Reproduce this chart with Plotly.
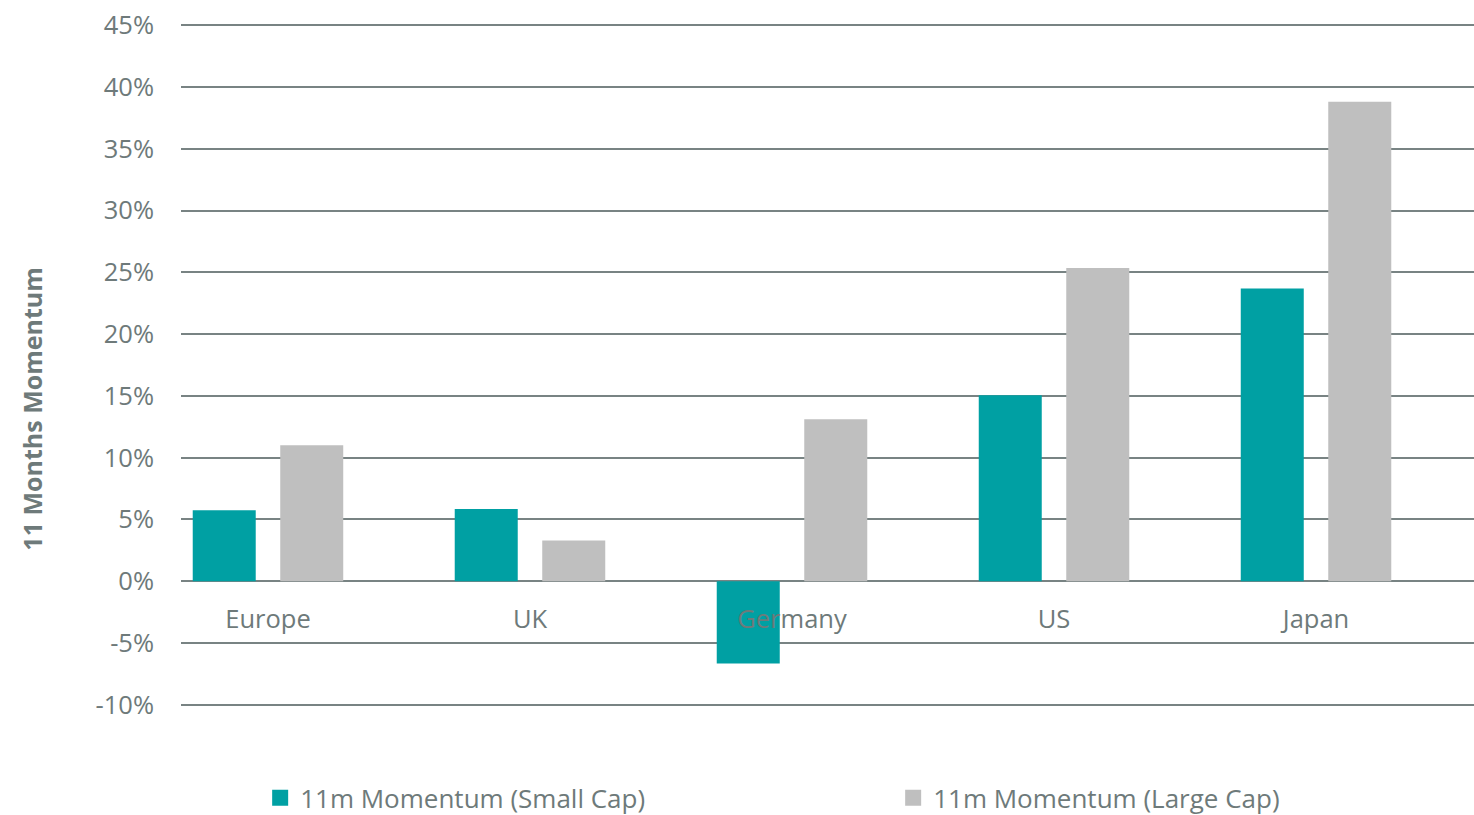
import plotly.graph_objects as go

categories = ["Europe", "UK", "Germany", "US", "Japan"]
small_cap = [5.75, 5.85, -6.65, 15.05, 23.7]
large_cap = [11.0, 3.3, 13.1, 25.35, 38.8]
y_ticks = [-10, -5, 0, 5, 10, 15, 20, 25, 30, 35, 40, 45]
y_tick_text = [f"{v}%" for v in y_ticks]
series_names = ["11m Momentum (Small Cap)", "11m Momentum (Large Cap)"]
series_colors = ["#00A0A3", "#BFBFBF"]

TEXT = "#6E7A7A"
GRID = "#788383"
FONT = "Open Sans"

fig = go.Figure()
for vals, name, color in zip([small_cap, large_cap], series_names, series_colors):
    fig.add_trace(go.Bar(x=categories, y=vals, name=name, legendgroup=name,
                         showlegend=False,
                         marker=dict(color=color, line=dict(width=0))))
# legend proxies (larger square swatches)
for name, color in zip(series_names, series_colors):
    fig.add_trace(go.Scatter(x=[None], y=[None], mode="markers", name=name,
                             legendgroup=name, hoverinfo="skip",
                             marker=dict(symbol="square", size=16, color=color)))

y_min, y_max = -10.1, 45.1
zero_frac = (0 - y_min) / (y_max - y_min)

fig.update_layout(
    width=1474, height=815,
    margin=dict(l=181, r=0, t=24, b=109, autoexpand=False),
    paper_bgcolor="white", plot_bgcolor="white",
    barmode="group", bargap=0.332, bargroupgap=0.28,
    font=dict(family=FONT, size=25.5, color=TEXT),
    showlegend=True,
    legend=dict(orientation="h", xref="container", yref="container",
                x=0.1765, y=0.0209, xanchor="left", yanchor="middle",
                entrywidth=588, entrywidthmode="pixels",
                font=dict(family=FONT, size=26, color=TEXT),
                itemclick=False, itemdoubleclick=False),
    xaxis=dict(range=[-0.332, 4.603], anchor="free", position=zero_frac,
               showline=False, showgrid=False, ticks="", ticklabelstandoff=20,
               automargin=False,
               tickfont=dict(family=FONT, size=25.5, color=TEXT), fixedrange=True),
    yaxis=dict(range=[y_min, y_max], tickvals=y_ticks, ticktext=y_tick_text,
               showgrid=True, gridcolor=GRID, gridwidth=2,
               zeroline=True, zerolinecolor=GRID, zerolinewidth=2,
               showline=False, ticks="", ticklabelstandoff=26, automargin=False,
               ticklabeloverflow="allow",
               tickfont=dict(family=FONT, size=25.5, color=TEXT), fixedrange=True),
)

fig.add_annotation(text="<b>11 Months Momentum</b>", textangle=-90,
                   xref="paper", yref="paper", x=-0.115, y=0.435,
                   xanchor="center", yanchor="middle", showarrow=False,
                   font=dict(family=FONT, size=25, color=TEXT))

fig.write_html("out.html", config={"displayModeBar": False},
               post_script="document.body.style.margin='0';document.body.style.overflow='hidden';")
